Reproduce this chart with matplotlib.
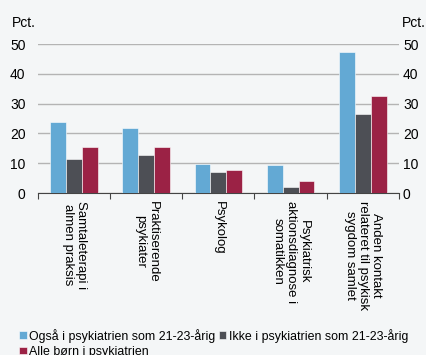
import matplotlib.pyplot as plt
import numpy as np

plt.rcParams['font.family'] = ['Liberation Sans', 'DejaVu Sans']

kategorier = ['Samtaleterapi i\nalmen praksis', 'Praktiserende\npsykiater', 'Psykolog',
              'Psykiatrisk\naktionsdiagnose i\nsomatikken', 'Anden kontakt\nrelateret til psykisk\nsygdom samlet']
ogsaa = [23.7, 21.8, 9.9, 9.5, 47.2]
ikke = [11.6, 12.7, 7.1, 1.9, 26.7]
alle = [15.3, 15.4, 7.9, 4.2, 32.7]
serier = ['Også i psykiatrien som 21-23-årig', 'Ikke i psykiatrien som 21-23-årig', 'Alle børn i psykiatrien']
farver = ['#63a9d4', '#4d4f55', '#9b2245']

bg = '#f4f6f7'
fig = plt.figure(figsize=(4.27, 3.55), dpi=100, facecolor=bg)
ax = fig.add_axes([0.089, 0.456, 0.845, 0.42], facecolor=bg)

x = np.arange(len(kategorier))
b = 0.22
bars = []
for i, (vals, c) in enumerate(zip([ogsaa, ikke, alle], farver)):
    bars.append(ax.bar(x + 0.28 + i * b, vals, b, color=c, edgecolor='white', linewidth=0.4, zorder=3))

ax.set_xlim(0, len(kategorier))
ax.set_ylim(0, 50)
ax.set_yticks(range(0, 51, 10))
ax.grid(axis='y', color='#b4b4b4', linewidth=1, zorder=0)
for s in ['left', 'right', 'top']:
    ax.spines[s].set_visible(False)
ax.spines['bottom'].set_color('#444444')
ax.set_xticks(range(len(kategorier) + 1))
ax.set_xticklabels([])
ax.tick_params(axis='x', direction='out', length=4, color='#444444')
ax.tick_params(axis='y', length=0, labelsize=10, pad=9)

for i, k in enumerate(kategorier):
    ax.text(i + 0.5, -0.05, k, transform=ax.get_xaxis_transform(), rotation=270,
            ha='center', va='top', fontsize=9.5, linespacing=1.1)

ax2 = ax.twinx()
ax2.set_ylim(0, 50)
ax2.set_yticks(range(0, 51, 10))
ax2.tick_params(axis='y', length=0, labelsize=10, pad=3)
for s in ax2.spines.values():
    s.set_visible(False)

fig.text(0.028, 0.935, 'Pct.', fontsize=10, ha='left', va='center')
fig.text(0.94, 0.935, 'Pct.', fontsize=10, ha='left', va='center')

h = [bars[0], bars[2], bars[1]]
l = [serier[0], serier[2], serier[1]]
fig.legend(h, l, ncol=2, loc='lower left', bbox_to_anchor=(0.045, -0.008), frameon=False,
           fontsize=8.9, handlelength=0.6, handleheight=0.6, handletextpad=0.2,
           columnspacing=0.3, labelspacing=0.25, borderpad=0.0, borderaxespad=0.0)

fig.savefig('out.png', dpi=100, facecolor=bg)
